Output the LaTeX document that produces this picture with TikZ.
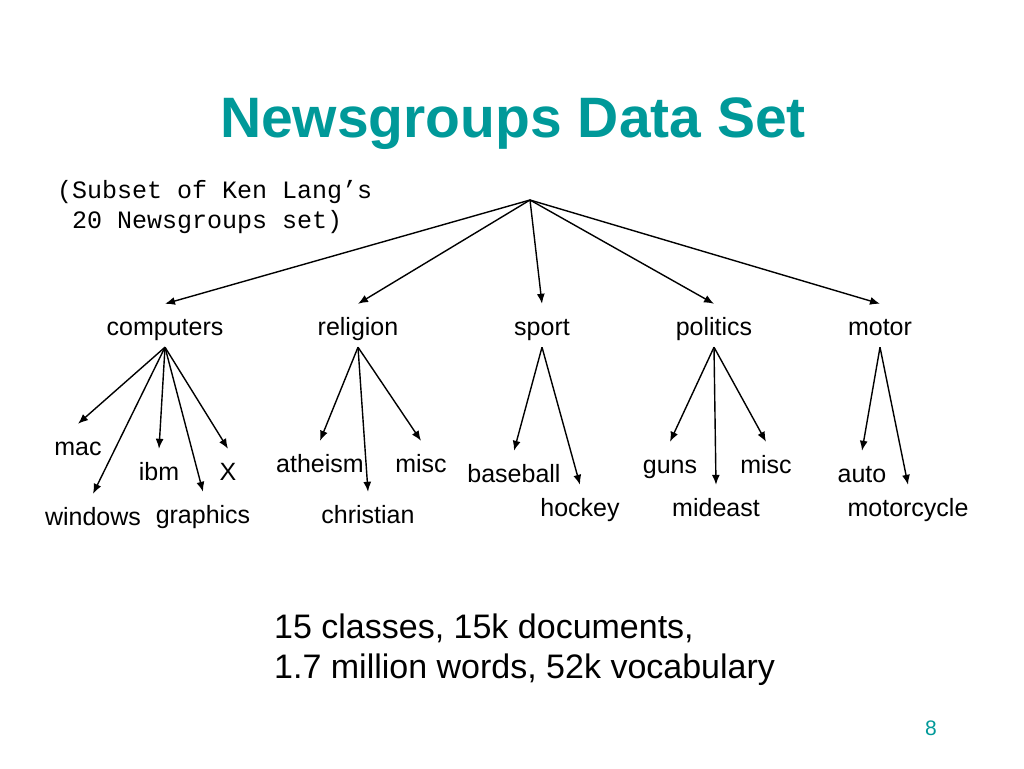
\documentclass[tikz,border=0pt]{standalone}
\usepackage{fontspec}
\setmainfont{Liberation Sans}
\newfontfamily\monofont{Liberation Mono}
\usetikzlibrary{arrows.meta}
\definecolor{teal}{RGB}{0,153,153}

\begin{document}
\begin{tikzpicture}[x=1pt, y=-1pt,
    word/.style={font=\fontsize{25}{29}\selectfont, text height=25pt, text depth=6pt, inner sep=6pt, anchor=base},
    arr/.style={line width=1.4pt, -{Latex[length=10pt,width=8pt]}}]
\useasboundingbox (0,0) rectangle (1024,768);

\node[font=\fontsize{57}{60}\selectfont\bfseries, text=teal, anchor=base] (title) at (513,137) {Newsgroups Data Set};
\node[font=\monofont\fontsize{25}{30}\selectfont, align=left, anchor=base west, inner sep=0pt] (note) at (57,228) {(Subset of Ken Lang’s\\\ 20 Newsgroups set)};

\coordinate (root) at (530,200);

% categories
\node[word] (comp) at (165,335) {computers};
\node[word] (rel) at (358,335) {religion};
\node[word] (sport) at (542,335) {sport};
\node[word] (pol) at (714,335) {politics};
\node[word] (motor) at (880,335) {motor};

% groups
\node[word] (mac) at (78,455) {mac};
\node[word] (win) at (93,525) {windows};
\node[word] (ibm) at (159,480) {ibm};
\node[word] (gfx) at (203,523) {graphics};
\node[word] (x) at (228,480) {X};
\node[word] (ath) at (320,472) {atheism};
\node[word] (chr) at (368,523) {christian};
\node[word] (rmisc) at (421,472) {misc};
\node[word] (base) at (514,482) {baseball};
\node[word] (hock) at (580,516) {hockey};
\node[word] (guns) at (670,473) {guns};
\node[word] (mid) at (716,516) {mideast};
\node[word] (pmisc) at (766,473) {misc};
\node[word] (auto) at (862,482) {auto};
\node[word] (cycle) at (908,516) {motorcycle};

\foreach \c in {comp,rel,sport,pol,motor}
    \draw[arr] (root) -- (\c.north);
\foreach \p/\c in {comp/mac,comp/win,comp/ibm,comp/gfx,comp/x,rel/ath,rel/chr,rel/rmisc,sport/base,sport/hock,pol/guns,pol/mid,pol/pmisc,motor/auto,motor/cycle}
    \draw[arr] (\p.south) -- (\c.north);

\node[font=\fontsize{34}{40}\selectfont, align=left, anchor=base west, inner sep=0pt] (facts) at (274,678) {15 classes, 15k documents,\\1.7 million words, 52k vocabulary};
\node[font=\fontsize{21}{24}\selectfont, text=teal, anchor=base] (page) at (931,735) {8};
\end{tikzpicture}
\end{document}
